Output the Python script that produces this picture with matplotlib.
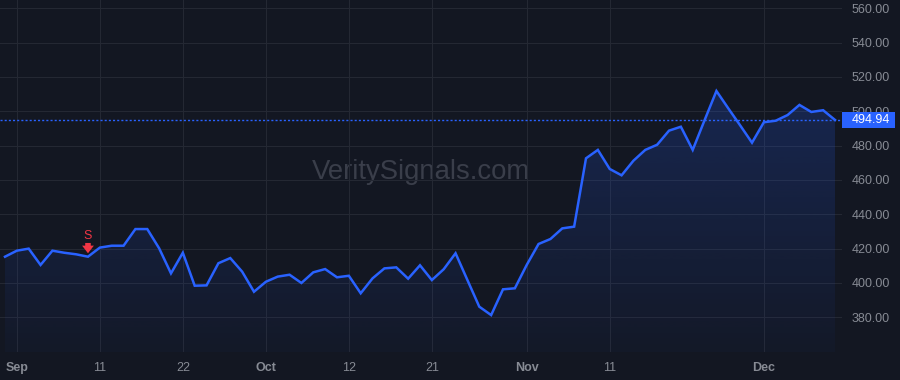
import numpy as np
import matplotlib
matplotlib.use('Agg')
import matplotlib.pyplot as plt
import matplotlib.transforms as mtransforms
from matplotlib.patches import Rectangle

plt.rcParams['font.family'] = ['Liberation Sans', 'DejaVu Sans']

# daily closes (late Aug -> mid Dec)
closes = [415.3, 418.8, 420.0, 410.5, 418.8, 417.6, 416.7, 415.3, 420.6, 421.7,
          421.7, 431.4, 431.4, 420.2, 405.6, 417.6, 398.4, 398.6, 411.5, 414.5,
          406.6, 394.9, 400.7, 403.7, 404.8, 400.0, 406.2, 408.1, 403.3, 404.2,
          394.0, 402.7, 408.5, 409.1, 402.5, 410.3, 401.7, 408.0, 417.3, 401.7,
          386.2, 381.3, 396.3, 396.9, 410.5, 422.7, 425.6, 431.8, 432.8, 472.6,
          477.5, 466.4, 462.7, 471.2, 477.5, 480.5, 488.7, 491.0, 477.5, 494.8,
          511.8, 501.7, 491.8, 481.7, 493.6, 494.5, 497.8, 503.7, 499.6, 500.6,
          494.94]
last_price = 494.94

tick_bars = [1, 8, 15, 22, 29, 36, 44, 51, 64]
tick_labels = ['Sep', '11', '22', 'Oct', '12', '21', 'Nov', '11', 'Dec']
month_names = {'Sep', 'Oct', 'Nov', 'Dec'}

price_ticks = [380, 400, 420, 440, 460, 480, 500, 520, 540, 560]

signal_bar = 7
signal_text = 'S'

BG = '#131722'
GRID = '#242833'
LINE = '#2962FF'
TXT = '#878b94'
RED = '#f23645'

x = np.arange(len(closes))
y = np.array(closes)

fig = plt.figure(figsize=(9, 3.8), dpi=100, facecolor=BG)
ax = fig.add_axes([0, 28 / 380, 842 / 900, 352 / 380])
ax.set_facecolor(BG)

ylo, yhi = 359.8, 564.8
xlo, xhi = -0.42, 70.59
ax.set_xlim(xlo, xhi)
ax.set_ylim(ylo, yhi)

# gradient area under the line
grad = np.linspace(0.21, 0.03, 256).reshape(-1, 1)
rgba = np.zeros((256, 1, 4))
rgba[..., 0] = 41 / 255
rgba[..., 1] = 98 / 255
rgba[..., 2] = 1.0
rgba[..., 3] = grad
img = ax.imshow(rgba, extent=[x[0], x[-1], ylo, y.max()], aspect='auto',
                origin='upper', zorder=1)
poly = ax.fill_between(x, y, ylo, color='none', lw=0)
img.set_clip_path(poly.get_paths()[0], transform=ax.transData)

ax.plot(x, y, color=LINE, lw=1.8, zorder=3, solid_joinstyle='miter')

# last price line
ax.axhline(last_price, color=LINE, lw=1, ls=(0, (1.5, 1.5)), zorder=2)

# grid
ax.set_yticks(price_ticks)
ax.set_xticks(tick_bars)
ax.grid(True, color=GRID, lw=0.8)
ax.set_axisbelow(True)
for s in ax.spines.values():
    s.set_visible(False)

ax.yaxis.tick_right()
ax.set_yticklabels(['%.2f' % v for v in price_ticks])
ax.tick_params(axis='y', length=0, pad=7, labelsize=9, labelcolor=TXT)
ax.set_xticklabels(tick_labels)
ax.tick_params(axis='x', length=0, pad=7, labelsize=9, labelcolor=TXT)
for lab in ax.get_xticklabels():
    if lab.get_text() in month_names:
        lab.set_fontweight('bold')

# price label box on the axis
trans = mtransforms.blended_transform_factory(fig.transFigure, ax.transData)
h = 9.7
fig.add_artist(Rectangle((842 / 900, last_price - h / 2), 53 / 900, h,
                         transform=trans, color=LINE, lw=0, zorder=5))
fig.text(852 / 900, last_price, '%.2f' % last_price, transform=trans,
         color='white', fontsize=9, va='center', ha='left', zorder=6)

# watermark
ax.text(0.5, 0.51, 'VeritySignals.com', transform=ax.transAxes,
        ha='center', va='center', fontsize=19.8, color='#3a3e4a', zorder=0.5)

# sell signal
sv = closes[signal_bar]
ax.annotate('', xy=(signal_bar, sv + 2.0), xytext=(signal_bar, sv + 8.0),
            arrowprops=dict(arrowstyle='simple,head_width=0.85,head_length=0.55,tail_width=0.4',
                            color=RED, lw=0, shrinkA=0, shrinkB=0), zorder=4)
ax.text(signal_bar, sv + 12.2, signal_text, color=RED, fontsize=9,
        ha='center', va='center', zorder=4)

fig.savefig('out.png', dpi=100, facecolor=BG)
